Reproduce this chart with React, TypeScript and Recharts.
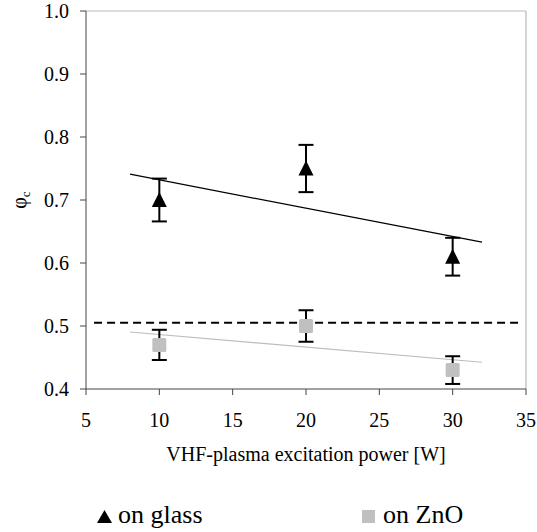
import { ComposedChart, Scatter, ErrorBar, XAxis, YAxis, ReferenceLine } from 'recharts';

const powers = [10, 20, 30];
const glassPhi = [0.70, 0.75, 0.61];
const glassErr = [0.034, 0.0375, 0.03];
const znoPhi = [0.47, 0.50, 0.43];
const znoErr = [0.024, 0.025, 0.022];

// linear fits (x from 8 to 32)
const glassFit = [{ x: 8, y: 0.741 }, { x: 32, y: 0.633 }];
const znoFit = [{ x: 8, y: 0.4905 }, { x: 32, y: 0.4425 }];
const limitLine = [{ x: 5.55, y: 0.505 }, { x: 34.8, y: 0.505 }];

const xTicks = [5, 10, 15, 20, 25, 30, 35];
const yTicks = [0.4, 0.5, 0.6, 0.7, 0.8, 0.9, 1.0];

const glassData = powers.map((x, i) => ({ x, y: glassPhi[i], err: glassErr[i] }));
const znoData = powers.map((x, i) => ({ x, y: znoPhi[i], err: znoErr[i] }));

const FONT = '"Liberation Serif", "Times New Roman", serif';
const textStyle = { fontFamily: FONT };

const Triangle = (props: any) => {
  const { cx, cy } = props;
  if (cx == null || cy == null) return null;
  return <polygon points={`${cx},${cy - 8} ${cx - 7.5},${cy + 7} ${cx + 7.5},${cy + 7}`} fill="#000" />;
};

const Square = (props: any) => {
  const { cx, cy } = props;
  if (cx == null || cy == null) return null;
  return <rect x={cx - 7} y={cy - 7} width={14} height={14} rx={1.5} fill="#c0c0c0" />;
};

const XTick = (props: any) => {
  const { x, y, payload } = props;
  return (
    <text x={x} y={y + 30} textAnchor="middle" style={textStyle} fontSize={20} fill="#000">
      {payload.value}
    </text>
  );
};

const YTick = (props: any) => {
  const { x, y, payload } = props;
  return (
    <text x={x - 9} y={y + 7} textAnchor="end" style={textStyle} fontSize={20} fill="#000">
      {Number(payload.value).toFixed(1)}
    </text>
  );
};

const XLabel = (props: any) => {
  const vb = props.viewBox || { x: 86, y: 389, width: 440, height: 80 };
  return (
    <text x={vb.x + vb.width / 2} y={389 + 72} textAnchor="middle" style={textStyle} fontSize={20} fill="#000">
      VHF-plasma excitation power [W]
    </text>
  );
};

const YLabel = (props: any) => {
  const vb = props.viewBox || { x: 0, y: 11, width: 86, height: 378 };
  const x = vb.x + 26;
  const y = vb.y + vb.height / 2;
  return (
    <text x={x} y={y} transform={`rotate(-90, ${x}, ${y})`} textAnchor="middle" style={textStyle} fontSize={20} fill="#000">
      φ<tspan fontSize={13} dy={4}>c</tspan>
    </text>
  );
};

const legendItems = [
  { name: 'on glass', marker: 'triangle', x: 97 },
  { name: 'on ZnO', marker: 'square', x: 362 },
];

export default function App() {
  return (
    <div style={{ position: 'absolute', left: 0, top: 0, width: 537, height: 532, background: '#fff', fontFamily: FONT }}>
      <ComposedChart width={537} height={532} margin={{ top: 11, right: 11, left: 0, bottom: 63 }}>
        <XAxis
          type="number"
          dataKey="x"
          domain={[5, 35]}
          ticks={xTicks}
          allowDataOverflow
          stroke="#444"
          tickSize={6}
          height={80}
          tick={<XTick />}
          label={<XLabel />}
        />
        <YAxis
          type="number"
          dataKey="y"
          domain={[0.4, 1.0]}
          ticks={yTicks}
          allowDataOverflow
          width={86}
          stroke="#444"
          tickSize={6}
          tick={<YTick />}
          label={<YLabel />}
        />
        <ReferenceLine y={1.0} stroke="#d0d0d0" strokeWidth={1.5} />
        <ReferenceLine x={35} stroke="#c4c4c4" strokeWidth={1.5} />
        <ReferenceLine segment={limitLine} stroke="#000" strokeWidth={2} strokeDasharray="8 5" />
        <ReferenceLine segment={glassFit} stroke="#000" strokeWidth={1.2} />
        <ReferenceLine segment={znoFit} stroke="#bdbdbd" strokeWidth={1.2} />
        <Scatter name="on glass" data={glassData} shape={<Triangle />} isAnimationActive={false}>
          <ErrorBar dataKey="err" direction="y" width={7.5} stroke="#000" strokeWidth={2} />
        </Scatter>
        <Scatter name="on ZnO" data={znoData} shape={<Square />} isAnimationActive={false}>
          <ErrorBar dataKey="err" direction="y" width={7.5} stroke="#000" strokeWidth={2} />
        </Scatter>
      </ComposedChart>
      <svg width={537} height={532} style={{ position: 'absolute', left: 0, top: 0, pointerEvents: 'none' }}>
        {legendItems.map((it) => (
          <g key={it.name}>
            {it.marker === 'triangle' ? (
              <polygon points={`${it.x + 7.5},510 ${it.x},523 ${it.x + 15},523`} fill="#000" />
            ) : (
              <rect x={it.x} y={510} width={13} height={13} fill="#c0c0c0" />
            )}
            <text x={it.x + 21} y={523} style={textStyle} fontSize={26} fill="#000">{it.name}</text>
          </g>
        ))}
      </svg>
    </div>
  );
}
